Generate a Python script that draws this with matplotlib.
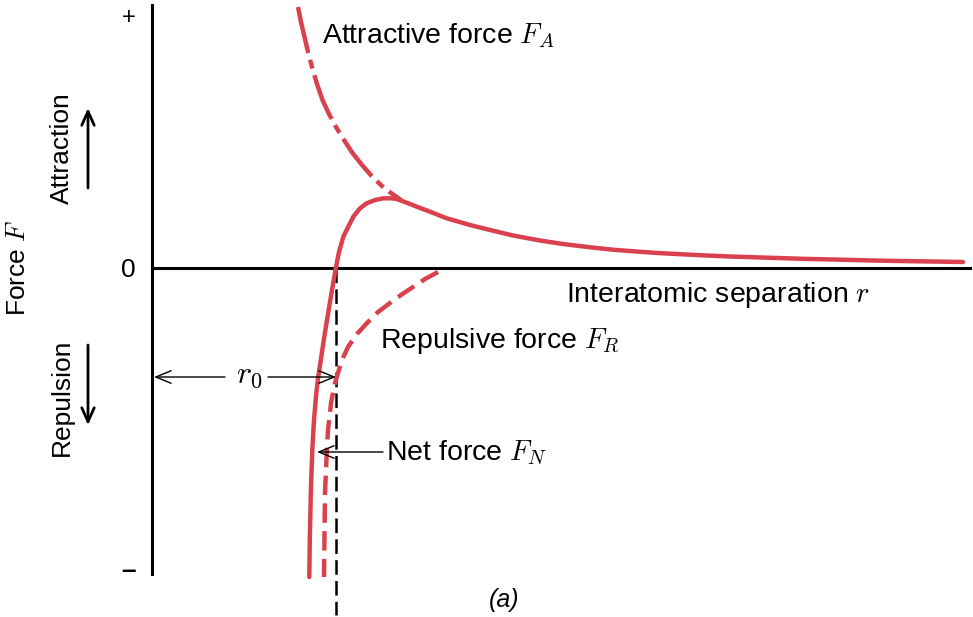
import matplotlib
matplotlib.use("Agg")
import matplotlib.pyplot as plt

plt.rcParams['font.family'] = ['Liberation Sans', 'DejaVu Sans']
plt.rcParams['mathtext.fontset'] = 'cm'
plt.rcParams['lines.scale_dashes'] = False

# Net force F_N against separation r (arbitrary units)
net_r = [1.573, 1.578, 1.588, 1.603, 1.620, 1.643, 1.662, 1.688, 1.718, 1.750, 1.767, 1.800,
         1.835, 1.867, 1.913, 1.963, 2.013, 2.08, 2.147, 2.23, 2.313, 2.397, 2.447,
         2.547, 2.647, 2.78, 2.947, 3.18, 3.38, 3.61, 3.88, 4.11, 4.38, 4.61, 4.88,
         5.11, 5.48, 5.78, 6.51, 7.35, 8.11]
net_F = [-3.09, -2.72, -2.25, -1.82, -1.52, -1.25, -1.09, -0.92, -0.72, -0.52, -0.42, -0.22,
         -0.02, 0.147, 0.313, 0.413, 0.513, 0.597, 0.647, 0.68, 0.697, 0.697, 0.69,
         0.653, 0.613, 0.563, 0.497, 0.43, 0.38, 0.325, 0.275, 0.24, 0.207, 0.183, 0.162,
         0.147, 0.128, 0.115, 0.092, 0.072, 0.06]

# Attractive force F_A (drawn until it joins the net force)
attr_r = [1.46, 1.49, 1.525, 1.56, 1.60, 1.65, 1.705, 1.77, 1.84, 1.92, 2.005, 2.10,
          2.205, 2.30, 2.39, 2.49]
attr_F = [2.61, 2.46, 2.31, 2.16, 2.01, 1.84, 1.68, 1.54, 1.41, 1.28, 1.15, 1.03,
          0.91, 0.82, 0.75, 0.68]

# Repulsive force F_R
rep_r = [2.86, 2.73, 2.61, 2.49, 2.38, 2.26, 2.15, 2.05, 1.96, 1.90, 1.86, 1.83,
         1.81, 1.79, 1.78, 1.76, 1.75, 1.74, 1.73, 1.725, 1.72]
rep_F = [-0.04, -0.11, -0.19, -0.27, -0.35, -0.44, -0.55, -0.66, -0.79, -0.92, -1.05, -1.15,
         -1.25, -1.35, -1.45, -1.62, -1.79, -2.02, -2.25, -2.67, -3.09]

# Equilibrium spacing and axis extents
r0 = 1.84
r_end = 8.18
F_top, F_bottom = 2.63, -3.06
tick_F = [2.53, 0, -3.01]
tick_labels = ['+', '0', '–']

red = '#d9414f'

fig = plt.figure(figsize=(9.73, 6.17), dpi=100)
ax = fig.add_axes([0, 0, 1, 1])
ax.set_xlim(-1.52, 8.21)
ax.set_ylim(-3.49, 2.68)

# axes drawn through the origin
for side in ('top', 'right'):
    ax.spines[side].set_visible(False)
ax.spines['left'].set_position(('data', 0))
ax.spines['bottom'].set_position(('data', 0))
ax.spines['left'].set_bounds(F_bottom, F_top)
ax.spines['bottom'].set_bounds(0, r_end)
for side in ('left', 'bottom'):
    ax.spines[side].set_linewidth(2.2)
ax.set_xticks([])
ax.set_yticks(tick_F, tick_labels)
ax.tick_params(axis='y', length=0, pad=12, labelsize=19)
labels = ax.get_yticklabels()
labels[0].set_fontsize(17)
labels[2].set_fontweight('bold')

# curves
curve = dict(color=red, lw=3.2, solid_joinstyle='round', dash_joinstyle='round', zorder=3)
ax.plot(net_r, net_F, solid_capstyle='round', **curve)
ax.plot(attr_r, attr_F, dashes=(34, 5, 6.5, 5), dash_capstyle='butt', **curve)
ax.plot(rep_r, rep_F, dashes=(14, 6), dash_capstyle='butt', **curve)

# r0 marker line
ax.plot([r0, r0], [0, -3.47], color='black', lw=1.8, dashes=(10.5, 4.5), zorder=2)

thin = dict(arrowstyle='->, head_length=1.1, head_width=0.45', color='black',
            lw=1.0, shrinkA=0, shrinkB=0, mutation_scale=10)
ax.annotate('', xy=(0.02, -1.09), xytext=(0.73, -1.09), arrowprops=thin)
ax.annotate('', xy=(r0, -1.09), xytext=(1.16, -1.09), arrowprops=thin)
ax.annotate('', xy=(1.65, -1.84), xytext=(2.31, -1.84), arrowprops=thin)
ax.text(0.97, -1.15, r'$r_0$', fontsize=23, ha='center', va='baseline')

thick = dict(arrowstyle='->, head_length=1.0, head_width=0.45', color='black',
             lw=2.0, shrinkA=0, shrinkB=0, mutation_scale=10)
ax.annotate('', xy=(-0.64, 1.60), xytext=(-0.64, 0.80), arrowprops=thick)
ax.annotate('', xy=(-0.64, -1.57), xytext=(-0.64, -0.77), arrowprops=thick)

# labels
lab = dict(fontsize=20.5, va='baseline')
ax.text(1.70, 2.25, r'Attractive force $F_A$', **lab)
ax.text(2.28, -0.80, r'Repulsive force $F_R$', **lab)
ax.text(2.34, -1.92, r'Net force $F_N$', **lab)
ax.text(4.14, -0.34, r'Interatomic separation $r$', **lab)
ax.text(3.52, -3.32, '(a)', fontsize=18, style='italic', ha='center', va='center')
ax.text(-1.34, 0.0, r'Force $F$', fontsize=19, rotation=90, ha='center', va='center')
ax.text(-0.90, 1.20, 'Attraction', fontsize=19, rotation=90, ha='center', va='center')
ax.text(-0.90, -1.29, 'Repulsion', fontsize=19, rotation=90, ha='center', va='center')

fig.savefig('out.png', dpi=100)
